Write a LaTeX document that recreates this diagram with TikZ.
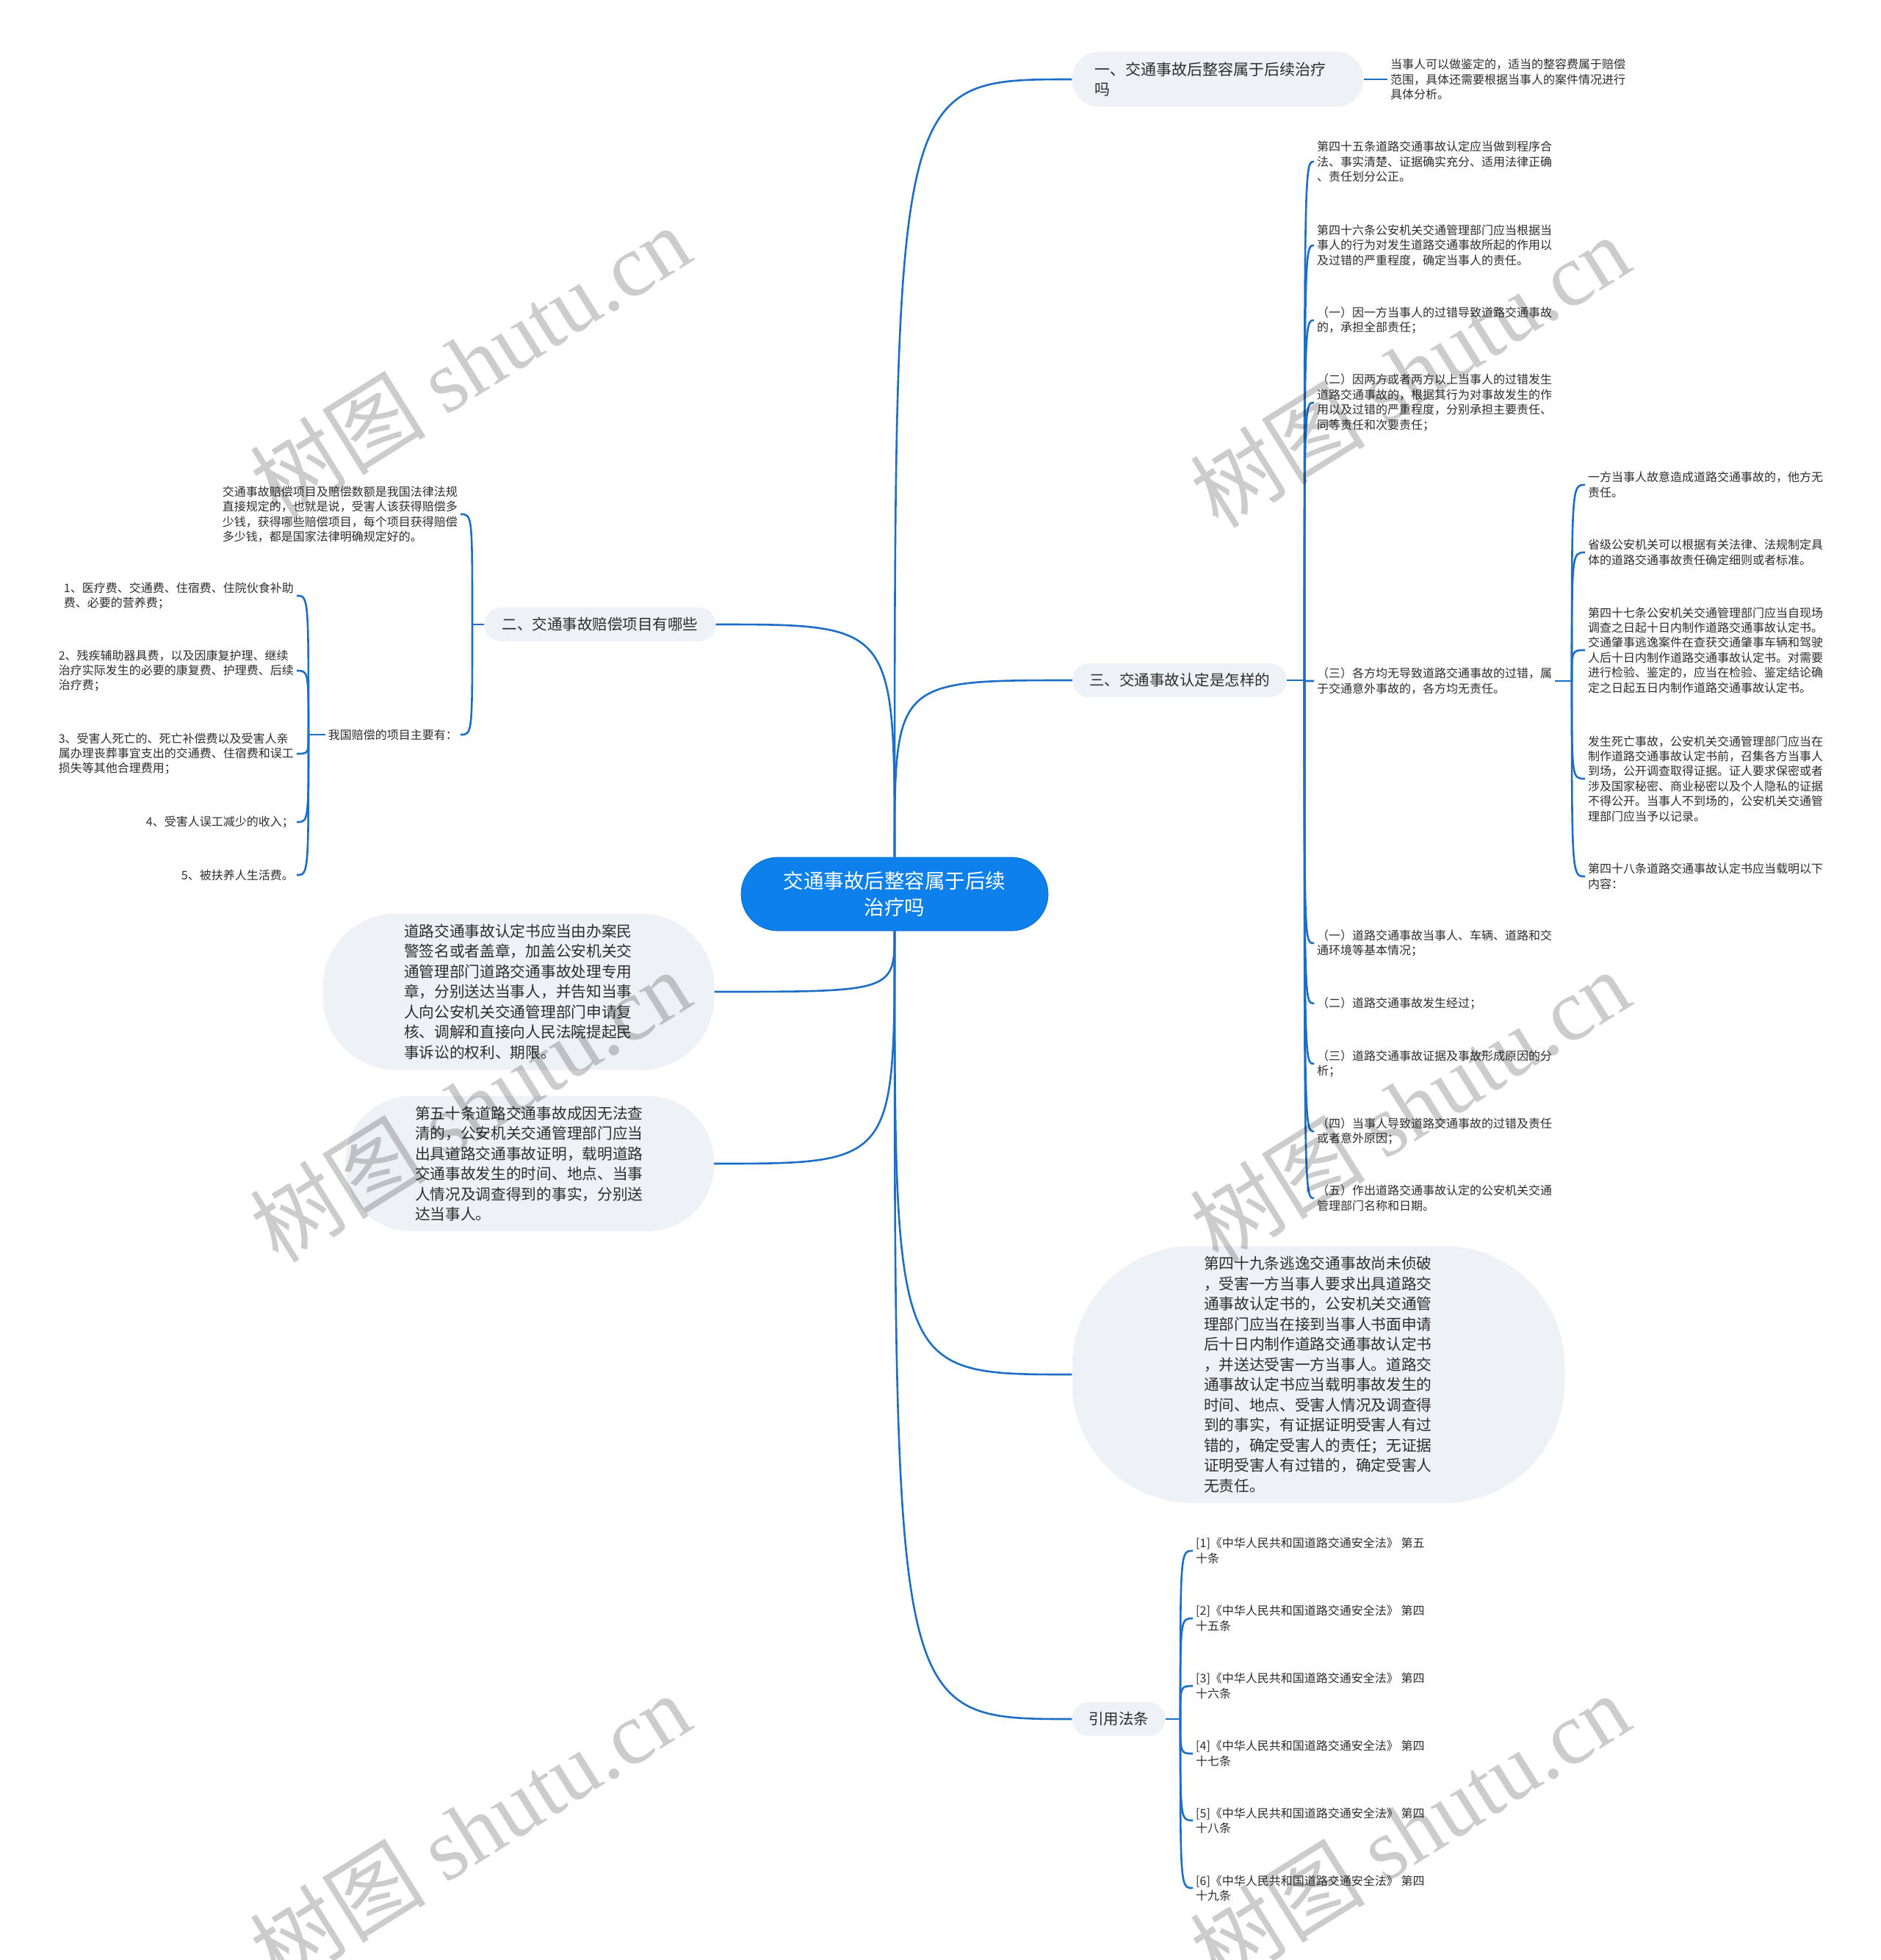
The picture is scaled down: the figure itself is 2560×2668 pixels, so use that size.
\documentclass[tikz,border=0pt]{standalone}
\usepackage{fontspec}
\setmainfont{Noto Sans CJK SC}
\newfontfamily\wmserif{Liberation Serif}
\definecolor{lineblue}{RGB}{28,110,198}
\definecolor{rootblue}{RGB}{14,128,236}
\definecolor{nodegray}{RGB}{238,241,245}
\definecolor{txt}{RGB}{45,45,45}
\begin{document}
\begin{tikzpicture}[x=1pt,y=-1pt,
  conn/.style={draw=lineblue, line width=2.6pt},
  rootnode/.style={fill=rootblue, draw=rootblue!85!black, line width=0.8pt, rounded corners=50pt, minimum width=418pt, minimum height=100pt, text=white, font=\fontsize{27.5}{36}\selectfont, align=center},
  branch/.style={fill=nodegray, text=txt, font=\fontsize{20.5}{27}\selectfont, minimum height=46pt, rounded corners=23pt, inner xsep=0pt},
  bignode/.style={fill=nodegray, text=txt, font=\fontsize{20.7}{27.5}\selectfont, align=left, inner xsep=0pt},
  leaf/.style={text=txt, font=\fontsize{16}{20.4}\selectfont, align=left, inner sep=4pt},
  wm/.style={text=black, text opacity=0.2, rotate=32, font=\fontsize{120}{130}\selectfont, inner sep=0pt}
]
\useasboundingbox (0,0) rectangle (2560,2668);
\fill[white] (0,0) rectangle (2560,2668);

% root
\node[rootnode] (root) at (1218,1217) {交通事故后整容属于后续\\治疗吗};

% branch 1
\node[branch, minimum width=397pt, minimum height=75pt, rounded corners=37pt, text width=335pt, align=left, font=\fontsize{21}{27}\selectfont] (b1) at (1658,108) {一、交通事故后整容属于后续治疗\\吗};
\node[leaf, anchor=west] (b1a) at (1889,108) {当事人可以做鉴定的，适当的整容费属于赔偿\\范围，具体还需要根据当事人的案件情况进行\\具体分析。};

% branch 2
\node[branch, minimum width=315pt] (b2) at (817,850) {二、交通事故赔偿项目有哪些};
\node[leaf, anchor=east] (e1) at (627,700) {交通事故赔偿项目及赔偿数额是我国法律法规\\直接规定的，也就是说，受害人该获得赔偿多\\少钱，获得哪些赔偿项目，每个项目获得赔偿\\多少钱，都是国家法律明确规定好的。};
\node[leaf, anchor=east] (e2) at (627,1000) {我国赔偿的项目主要有：};
\node[leaf, anchor=east] (f1) at (404,811) {1、医疗费、交通费、住宿费、住院伙食补助\\费、必要的营养费；};
\node[leaf, anchor=east] (f2) at (404,913) {2、残疾辅助器具费，以及因康复护理、继续\\治疗实际发生的必要的康复费、护理费、后续\\治疗费；};
\node[leaf, anchor=east] (f3) at (404,1026) {3、受害人死亡的、死亡补偿费以及受害人亲\\属办理丧葬事宜支出的交通费、住宿费和误工\\损失等其他合理费用；};
\node[leaf, anchor=east] (f4) at (404,1119) {4、受害人误工减少的收入；};
\node[leaf, anchor=east] (f5) at (404,1191) {5、被扶养人生活费。};

% branch 3
\node[branch, minimum width=292pt] (b3) at (1606,926) {三、交通事故认定是怎样的};
\node[leaf, anchor=west] (c1) at (1789,220) {第四十五条道路交通事故认定应当做到程序合\\法、事实清楚、证据确实充分、适用法律正确\\、责任划分公正。};
\node[leaf, anchor=west] (c2) at (1789,334) {第四十六条公安机关交通管理部门应当根据当\\事人的行为对发生道路交通事故所起的作用以\\及过错的严重程度，确定当事人的责任。};
\node[leaf, anchor=west] (c3) at (1789,436) {（一）因一方当事人的过错导致道路交通事故\\的，承担全部责任；};
\node[leaf, anchor=west] (c4) at (1789,548) {（二）因两方或者两方以上当事人的过错发生\\道路交通事故的，根据其行为对事故发生的作\\用以及过错的严重程度，分别承担主要责任、\\同等责任和次要责任；};
\node[leaf, anchor=west] (c5) at (1789,927) {（三）各方均无导致道路交通事故的过错，属\\于交通意外事故的，各方均无责任。};
\node[leaf, anchor=west] (c6) at (1789,1284) {（一）道路交通事故当事人、车辆、道路和交\\通环境等基本情况；};
\node[leaf, anchor=west] (c7) at (1789,1366) {（二）道路交通事故发生经过；};
\node[leaf, anchor=west] (c8) at (1789,1448) {（三）道路交通事故证据及事故形成原因的分\\析；};
\node[leaf, anchor=west] (c9) at (1789,1540) {（四）当事人导致道路交通事故的过错及责任\\或者意外原因；};
\node[leaf, anchor=west] (c10) at (1789,1631) {（五）作出道路交通事故认定的公安机关交通\\管理部门名称和日期。};

\node[leaf, anchor=west] (d1) at (2158,660) {一方当事人故意造成道路交通事故的，他方无\\责任。};
\node[leaf, anchor=west] (d2) at (2158,752) {省级公安机关可以根据有关法律、法规制定具\\体的道路交通事故责任确定细则或者标准。};
\node[leaf, anchor=west] (d3) at (2158,885) {第四十七条公安机关交通管理部门应当自现场\\调查之日起十日内制作道路交通事故认定书。\\交通肇事逃逸案件在查获交通肇事车辆和驾驶\\人后十日内制作道路交通事故认定书。对需要\\进行检验、鉴定的，应当在检验、鉴定结论确\\定之日起五日内制作道路交通事故认定书。};
\node[leaf, anchor=west] (d4) at (2158,1060) {发生死亡事故，公安机关交通管理部门应当在\\制作道路交通事故认定书前，召集各方当事人\\到场，公开调查取得证据。证人要求保密或者\\涉及国家秘密、商业秘密以及个人隐私的证据\\不得公开。当事人不到场的，公安机关交通管\\理部门应当予以记录。};
\node[leaf, anchor=west] (d5) at (2158,1193) {第四十八条道路交通事故认定书应当载明以下\\内容：};

% big nodes
\node[bignode, minimum width=533pt, minimum height=213pt, rounded corners=100pt, text width=312pt] (L1) at (706,1350) {道路交通事故认定书应当由办案民\\警签名或者盖章，加盖公安机关交\\通管理部门道路交通事故处理专用\\章，分别送达当事人，并告知当事\\人向公安机关交通管理部门申请复\\核、调解和直接向人民法院提起民\\事诉讼的权利、期限。};
\node[bignode, minimum width=502pt, minimum height=184pt, rounded corners=90pt, text width=312pt] (L2) at (721,1584) {第五十条道路交通事故成因无法查\\清的，公安机关交通管理部门应当\\出具道路交通事故证明，载明道路\\交通事故发生的时间、地点、当事\\人情况及调查得到的事实，分别送\\达当事人。};
\node[bignode, minimum width=671pt, minimum height=350pt, rounded corners=165pt, text width=312pt] (R1) at (1795,1871) {第四十九条逃逸交通事故尚未侦破\\，受害一方当事人要求出具道路交\\通事故认定书的，公安机关交通管\\理部门应当在接到当事人书面申请\\后十日内制作道路交通事故认定书\\，并送达受害一方当事人。道路交\\通事故认定书应当载明事故发生的\\时间、地点、受害人情况及调查得\\到的事实，有证据证明受害人有过\\错的，确定受害人的责任；无证据\\证明受害人有过错的，确定受害人\\无责任。};

% citations
\node[branch, minimum width=127pt] (b4) at (1523,2340) {引用法条};
\node[leaf, anchor=west] (g1) at (1624,2111) {[1]《中华人民共和国道路交通安全法》 第五\\十条};
\node[leaf, anchor=west] (g2) at (1624,2203) {[2]《中华人民共和国道路交通安全法》 第四\\十五条};
\node[leaf, anchor=west] (g3) at (1624,2295) {[3]《中华人民共和国道路交通安全法》 第四\\十六条};
\node[leaf, anchor=west] (g4) at (1624,2387) {[4]《中华人民共和国道路交通安全法》 第四\\十七条};
\node[leaf, anchor=west] (g5) at (1624,2478) {[5]《中华人民共和国道路交通安全法》 第四\\十八条};
\node[leaf, anchor=west] (g6) at (1624,2570) {[6]《中华人民共和国道路交通安全法》 第四\\十九条};

% root connectors
\draw[conn] (root.north) .. controls (root.north |- b1.west) .. (b1.west);
\draw[conn] (root.north) .. controls (root.north |- b2.east) .. (b2.east);
\draw[conn] (root.north) .. controls (root.north |- b3.west) .. (b3.west);
\draw[conn] (root.south) .. controls (root.south |- L1.east) .. (L1.east);
\draw[conn] (root.south) .. controls (root.south |- L2.east) .. (L2.east);
\draw[conn] (root.south) .. controls (root.south |- R1.west) .. (R1.west);
\draw[conn] (root.south) .. controls (root.south |- b4.west) .. (b4.west);

% branch 1
\draw[conn] (b1.east) -- (b1a.west);

% branch 2 tree
\coordinate (s2) at (643,850);
\draw[conn] (b2.west) -- (s2);
\foreach \n in {e1,e2} \draw[conn] (s2) .. controls (s2 |- \n.east) .. (\n.east);
\coordinate (s2b) at (420,1000);
\draw[conn] (e2.west) -- (s2b);
\foreach \n in {f1,f2,f3,f4,f5} \draw[conn] (s2b) .. controls (s2b |- \n.east) .. (\n.east);

% branch 3 tree
\coordinate (s3) at (1776,926);
\draw[conn] (b3.east) -- (s3);
\foreach \n in {c1,c2,c3,c4,c5,c6,c7,c8,c9,c10} \draw[conn] (s3) .. controls (s3 |- \n.west) .. (\n.west);
\coordinate (s5) at (2140,927);
\draw[conn] (c5.east) -- (s5);
\foreach \n in {d1,d2,d3,d4,d5} \draw[conn] (s5) .. controls (s5 |- \n.west) .. (\n.west);

% citations tree
\coordinate (s4) at (1607,2340);
\draw[conn] (b4.east) -- (s4);
\foreach \n in {g1,g2,g3,g4,g5,g6} \draw[conn] (s4) .. controls (s4 |- \n.west) .. (\n.west);

% watermarks
\foreach \wx/\wy [count=\i] in {640/492, 1919/505, 640/1505, 1919/1505, 640/2490, 1919/2490}
  \node[wm] (wm\i) at (\wx,\wy) {树图 {\wmserif shutu.cn}};
\end{tikzpicture}
\end{document}
